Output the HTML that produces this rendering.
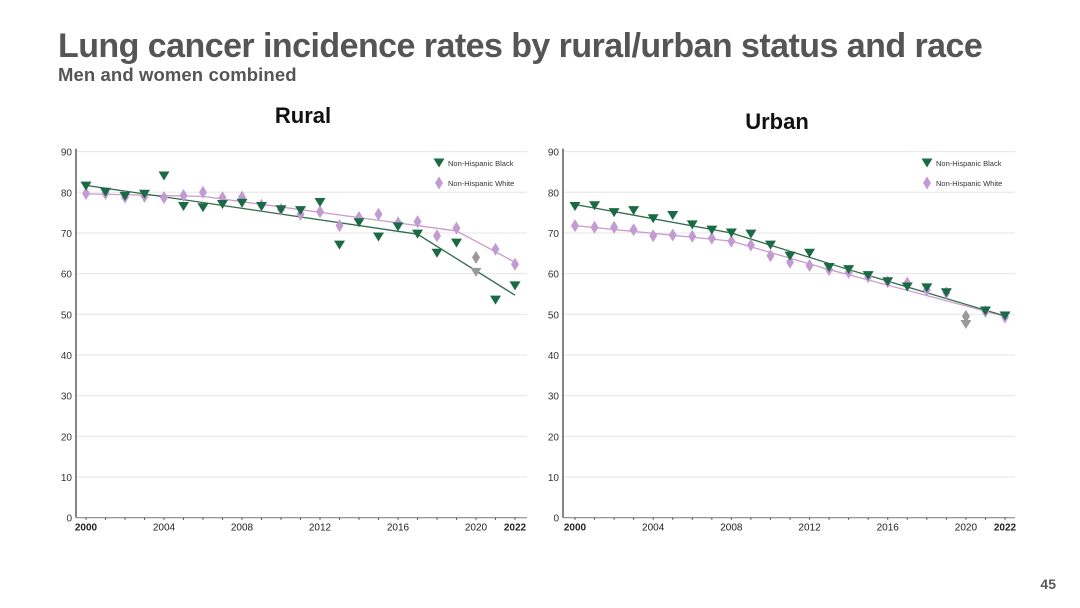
<!DOCTYPE html>
<html><head><meta charset="utf-8"><style>
body{margin:0;background:#fff;}
svg{display:block;font-family:"Liberation Sans",Arial,sans-serif;}
</style></head><body>
<svg id="svg" width="1080" height="608" viewBox="0 0 1080 608">
<text x="58" y="57" font-size="34" font-weight="bold" fill="#555" letter-spacing="-0.55">Lung cancer incidence rates by rural/urban status and race</text>
<text x="58" y="81" font-size="18.5" font-weight="bold" fill="#555" letter-spacing="0.1">Men and women combined</text>
<text x="303" y="123" font-size="22" font-weight="bold" fill="#111" text-anchor="middle">Rural</text>
<text x="777" y="129" font-size="22" font-weight="bold" fill="#111" text-anchor="middle">Urban</text>
<text x="1056" y="589" font-size="14" font-weight="bold" fill="#595959" text-anchor="end">45</text>
<g id="rural"></g>
<g id="urban"></g>
</svg>
<script>
const years = [2000,2001,2002,2003,2004,2005,2006,2007,2008,2009,2010,2011,2012,2013,2014,2015,2016,2017,2018,2019,2020,2021,2022];
const yTicks = [0,10,20,30,40,50,60,70,80,90];
const xTickLabels = [2000,2004,2008,2012,2016,2020,2022];
const ruralBlack = [81.5,80,79,79.5,84,76.5,76.2,77,77.3,76.5,75.7,75.5,77.5,67,72.5,69,71.5,69.7,65,67.5,60.3,53.5,57];
const ruralWhite = [79.7,79.7,78.8,79,78.7,79.2,80,78.7,78.8,76.8,75.8,74.6,75.2,71.8,73.8,74.6,72.5,72.8,69.3,71.2,64,66,62.3];
const ruralBlackTrendX = [2000,2017,2022];
const ruralBlackTrendY = [81.7,69.7,54.7];
const ruralWhiteTrendX = [2000,2006,2019,2022];
const ruralWhiteTrendY = [79.6,79,70.5,62.8];
const urbanBlack = [76.5,76.7,75,75.5,73.5,74.3,72,70.7,70,69.7,67,64.3,65,61.5,61,59.5,58,56.7,56.5,55.3,47.5,50.8,49.6];
const urbanWhite = [71.8,71.4,71.4,70.8,69.3,69.5,69.2,68.7,68,67,64.4,62.8,62,61,60.3,59.2,58,57.7,56,55.3,49.5,50.7,49.3];
const urbanBlackTrendX = [2000,2008,2014,2022];
const urbanBlackTrendY = [77,70,61,49.6];
const urbanWhiteTrendX = [2000,2008,2013,2022];
const urbanWhiteTrendY = [71.8,68,61,49.5];
const excludedYear = 2020;
const NS = "http://www.w3.org/2000/svg";
function mk(tag, attrs, parent){const e=document.createElementNS(NS,tag);for(const k in attrs)e.setAttribute(k,attrs[k]);parent.appendChild(e);return e;}
function drawChart(g, prefix, axisX, axisRight, x0, x1, black, white, bTx, bTy, wTx, wTy){
  const yBase=517.7, yTop=151.6;
  const ys=v=>yBase-(v/90)*(yBase-yTop);
  const xs=yr=>x0+(yr-2000)/22*(x1-x0);
  yTicks.forEach(t=>{
    if(t>0){const l=mk('line',{x1:axisX,x2:axisRight,y1:ys(t),y2:ys(t),stroke:'#e6e6e6','stroke-width':1},g);
    
    }
    const tx=mk('text',{x:axisX-4,y:ys(t)+4,'font-size':10,fill:'#333','text-anchor':'end'},g);
    tx.textContent=t;
    
    
  });
  const ya=mk('line',{x1:axisX,x2:axisX,y1:yTop-3,y2:yBase,stroke:'#444','stroke-width':1.3},g);
  
  
  const xa=mk('line',{x1:axisX,x2:axisRight,y1:yBase,y2:yBase,stroke:'#888','stroke-width':1.2},g);
  
  
  years.forEach(yr=>{mk('line',{x1:xs(yr),x2:xs(yr),y1:yBase,y2:yBase+2,stroke:'#444'},g);});
  xTickLabels.forEach(yr=>{
    const bold=(yr===2000||yr===2022);
    const t=mk('text',{x:xs(yr),y:yBase+13,'font-size':10,fill:'#222','text-anchor':'middle','font-weight':bold?'bold':'normal'},g);
    t.textContent=yr;
    
    
  });
  const line=(xa_,ya_,col,name)=>{
    const p=mk('polyline',{points:xa_.map((x,i)=>xs(x)+','+ys(ya_[i])).join(' '),fill:'none',stroke:col,'stroke-width':1.3},g);
    
    
  };
  line(wTx,wTy,'#c99cc9',prefix+'-white-trend');
  line(bTx,bTy,'#2f6b4c',prefix+'-black-trend');
  const tri=(cx,cy,col)=>mk('polygon',{points:`${cx-5.5},${cy-4.5} ${cx+5.5},${cy-4.5} ${cx},${cy+4.5}`,fill:col},g);
  const dia=(cx,cy,col)=>mk('polygon',{points:`${cx},${cy-6.5} ${cx+4},${cy} ${cx},${cy+6.5} ${cx-4},${cy}`,fill:col},g);
  white.forEach((v,i)=>{const d=dia(xs(years[i]),ys(v),years[i]===excludedYear?'#999':'#c39bd3');
    
    });
  black.forEach((v,i)=>{const d=tri(xs(years[i]),ys(v),years[i]===excludedYear?'#999':'#1a6b45');
    
    });
  const lx=axisRight-88;
  const lb=tri(lx,163,'#1a6b45');
  
  
  const lt1=mk('text',{x:lx+9,y:166,'font-size':7.5,fill:'#333'},g);
  lt1.textContent='Non-Hispanic Black';
  
  
  const lw=dia(lx,183,'#c39bd3');
  
  
  const lt2=mk('text',{x:lx+9,y:186,'font-size':7.5,fill:'#333'},g);
  lt2.textContent='Non-Hispanic White';
  
  
}
drawChart(document.getElementById('rural'),'rural',76,527,86,515,ruralBlack,ruralWhite,ruralBlackTrendX,ruralBlackTrendY,ruralWhiteTrendX,ruralWhiteTrendY);
drawChart(document.getElementById('urban'),'urban',563,1015,575,1005,urbanBlack,urbanWhite,urbanBlackTrendX,urbanBlackTrendY,urbanWhiteTrendX,urbanWhiteTrendY);
</script>
</body></html>
